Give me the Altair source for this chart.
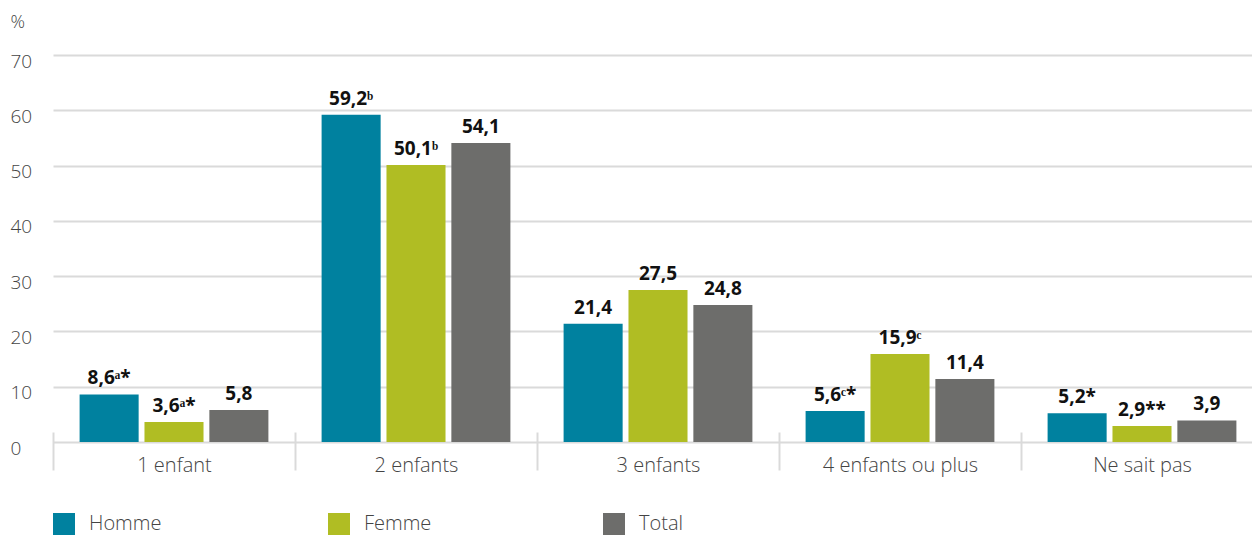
import altair as alt
import pandas as pd

categories = ["1 enfant", "2 enfants", "3 enfants", "4 enfants ou plus", "Ne sait pas"]
groups = ["Homme", "Femme", "Total"]
homme = [8.6, 59.2, 21.4, 5.6, 5.2]
femme = [3.6, 50.1, 27.5, 15.9, 2.9]
total = [5.8, 54.1, 24.8, 11.4, 3.9]
homme_notes = ["ᵃ*", "ᵇ", "", "ᶜ*", "*"]
femme_notes = ["ᵃ*", "ᵇ", "", "ᶜ", "**"]
total_notes = ["", "", "", "", ""]
colors = ["#00819F", "#B0BD23", "#6D6D6B"]
y_ticks = [0, 10, 20, 30, 40, 50, 60, 70]

rows = []
for g, vals, notes in zip(groups, [homme, femme, total], [homme_notes, femme_notes, total_notes]):
    for c, v, n in zip(categories, vals, notes):
        rows.append({"cat": c, "grp": g, "value": v,
                     "label": f"{v:.1f}".replace(".", ",") + n})
df = pd.DataFrame(rows)

FONT = "Open Sans"

x_enc = alt.X("cat:N", sort=categories,
              scale=alt.Scale(range=[0, 1210], paddingInner=0, paddingOuter=0),
              axis=alt.Axis(title=None, labelAngle=0, domain=False, ticks=True,
                            tickBand="extent", tickSize=38, offset=-10,
                            tickColor="#DADADA", tickWidth=2,
                            labelPadding=-15, labelFontSize=20, labelFont=FONT,
                            labelFontWeight=300, labelColor="#444444", grid=False))
xo_enc = alt.XOffset("grp:N", sort=groups,
                     scale=alt.Scale(paddingInner=0.09, paddingOuter=0.41))
y_enc = alt.Y("value:Q", scale=alt.Scale(domain=[0, 70], nice=False),
              axis=alt.Axis(values=y_ticks, title="%", titleAngle=0, titleX=-43,
                            titleY=-33, titleAlign="left", titleBaseline="middle",
                            titleFontSize=18, titleFont=FONT, titleFontWeight=300,
                            titleColor="#444444",
                            domain=False, ticks=False, labelAlign="left",
                            labelPadding=43, labelOffset=6, labelFontSize=19,
                            labelFont=FONT, labelFontWeight=300, labelColor="#444444",
                            gridColor="#DADADA", gridWidth=2))

base = alt.Chart(df).encode(x=x_enc, xOffset=xo_enc, y=y_enc)

bars = base.mark_bar().encode(
    color=alt.Color("grp:N", sort=groups,
                    scale=alt.Scale(domain=groups, range=colors),
                    legend=alt.Legend(title=None, orient="none", legendX=0, legendY=458,
                                      direction="horizontal", columns=3, gridAlign="all",
                                      symbolType="square", symbolSize=484,
                                      symbolStrokeWidth=0, labelOffset=14,
                                      columnPadding=166, labelFontSize=20,
                                      labelFont=FONT, labelFontWeight=300,
                                      labelColor="#444444"))
)

labels = base.mark_text(baseline="bottom", dy=-6, fontSize=19, fontWeight="bold",
                        font=FONT, color="#111111").encode(text="label:N")

chart = (bars + labels).properties(
    width=1199, height=387,
    autosize=alt.AutoSizeParams(type="none"),
    padding={"left": 53, "top": 55, "right": 0, "bottom": 93},
).configure_view(stroke=None)

chart.save("out.html", embed_options={"renderer": "svg", "actions": False})
